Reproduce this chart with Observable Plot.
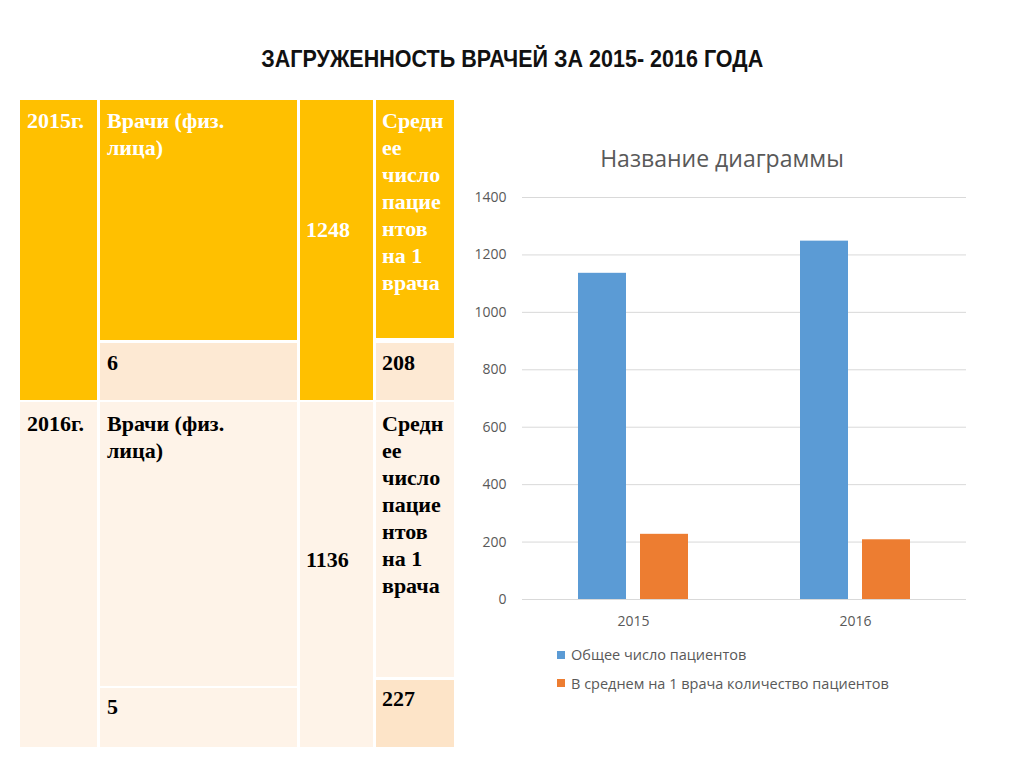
<!DOCTYPE html>
<html>
<head>
<meta charset="utf-8">
<script src="https://cdn.jsdelivr.net/npm/d3@7"></script>
<script src="https://cdn.jsdelivr.net/npm/@observablehq/plot@0.6"></script>
<style>
  html, body { margin: 0; padding: 0; background: #fff; }
  #page { position: relative; width: 1024px; height: 767px; overflow: hidden; background: #fff; }
  .abs { position: absolute; }
  .cell { position: absolute; }
  .ttxt { position: absolute; font-family: "Liberation Serif", "Times New Roman", serif; font-weight: bold; font-size: 22px; line-height: 27px; white-space: nowrap; }
  #title { position: absolute; top: 46px; left: 0; width: 1024px; text-align: center; font-family: "Liberation Sans Narrow", "Liberation Sans", sans-serif; font-weight: bold; font-size: 23px; color: #111; white-space: nowrap; }
  #title span { display: inline-block; transform-origin: center; }
  #ctitle { position: absolute; left: 460px; width: 524px; top: 142px; text-align: center; font-family: "Open Sans", sans-serif; font-size: 23px; color: #595959; white-space: nowrap; }
  .leg { position: absolute; font-family: "Open Sans", sans-serif; font-size: 14.5px; color: #595959; white-space: nowrap; }
  .sw { position: absolute; width: 8px; height: 8px; }
</style>
</head>
<body>
<div id="page">
  <div id="title"><span id="titlespan">ЗАГРУЖЕННОСТЬ ВРАЧЕЙ ЗА 2015- 2016 ГОДА</span></div>
  <div id="table"></div>
  <div id="ctitle">Название диаграммы</div>
  <div id="chart" class="abs" style="left:460px; top:180px;"></div>
  <div id="legend"></div>
</div>
<script>
// ---- Table data ----
const tableYears = ["2015г.", "2016г."];
const doctorsLabel = "Врачи (физ.<br>лица)";
const avgLabel = "Средн<br>ее<br>число<br>пацие<br>нтов<br>на 1<br>врача";
const doctorsCount = [6, 5];
const patientsTable = [1248, 1136];
const avgTable = [208, 227];

// ---- Chart data ----
const years = ["2015", "2016"];
const seriesNames = ["Общее число пациентов", "В среднем на 1 врача количество пациентов"];
const totalPatients = [1136, 1248];
const avgPerDoctor = [227, 208];
const seriesColors = ["#5B9BD5", "#ED7D31"];
const yTicks = [0, 200, 400, 600, 800, 1000, 1200, 1400];

// ---- Build table ----
const tbl = document.getElementById("table");
function cell(x, y, w, h, bg) {
  const d = document.createElement("div");
  d.className = "cell";
  Object.assign(d.style, {left: x + "px", top: y + "px", width: w + "px", height: h + "px", background: bg});
  tbl.appendChild(d);
}
function txt(x, y, html, color) {
  const d = document.createElement("div");
  d.className = "ttxt";
  Object.assign(d.style, {left: x + "px", top: y + "px", color});
  d.innerHTML = html;
  tbl.appendChild(d);
}
const YEL = "#FFC000", PEACH = "#FDE9D3", LIGHT = "#FEF3E8", PEACH2 = "#FDE4C8";
// 2015 block
cell(20, 100, 77, 300, YEL);
cell(100, 100, 197, 240, YEL);
cell(100, 343, 197, 57, PEACH);
cell(300, 100, 73, 300, YEL);
cell(376, 100, 78, 238, YEL);
cell(376, 343, 78, 57, PEACH);
// 2016 block
cell(20, 402, 77, 345, LIGHT);
cell(100, 402, 197, 284, LIGHT);
cell(100, 688, 197, 59, LIGHT);
cell(300, 402, 73, 345, LIGHT);
cell(376, 402, 78, 275, LIGHT);
cell(376, 680, 78, 67, PEACH2);

txt(27, 107, tableYears[0], "#fff");
txt(107, 107, doctorsLabel, "#fff");
txt(306, 216, String(patientsTable[0]), "#fff");
txt(382, 107, avgLabel, "#fff");
txt(107, 349, String(doctorsCount[0]), "#000");
txt(382, 349, String(avgTable[0]), "#000");

txt(27, 410, tableYears[1], "#000");
txt(107, 410, doctorsLabel, "#000");
txt(306, 546, String(patientsTable[1]), "#000");
txt(382, 410, avgLabel, "#000");
txt(107, 693, String(doctorsCount[1]), "#000");
txt(382, 685, String(avgTable[1]), "#000");

// ---- Chart ----
const data = years.flatMap((yr, i) => [
  {year: yr, series: seriesNames[0], value: totalPatients[i]},
  {year: yr, series: seriesNames[1], value: avgPerDoctor[i]}
]);

const chart = Plot.plot({
  width: 520,
  height: 460,
  marginTop: 17,
  marginBottom: 41,
  marginLeft: 62,
  marginRight: 14,
  style: {fontFamily: "Open Sans", fontSize: "14px", color: "#595959", background: "transparent"},
  fx: {domain: years, padding: 0, label: null, axis: null},
  x: {domain: seriesNames, paddingInner: 0.222, paddingOuter: 0.873, axis: null},
  y: {domain: [0, 1400], label: null},
  color: {domain: seriesNames, range: seriesColors},
  marks: [
    Plot.gridY(yTicks, {stroke: "#D9D9D9", strokeOpacity: 1}),
    Plot.barY(data, {fx: "year", x: "series", y: "value", fill: "series"}),
    Plot.axisY(yTicks, {tickSize: 0, tickPadding: 16, label: null, tickFormat: d => String(d)}),
    Plot.axisFx({anchor: "bottom", tickSize: 0, tickPadding: 17, label: null})
  ]
});
document.getElementById("chart").appendChild(chart);

// ---- Legend ----
const leg = document.getElementById("legend");
const legRows = [{sq: 651, ty: 645}, {sq: 679, ty: 674}];
seriesNames.forEach((name, i) => {
  const s = document.createElement("div");
  s.className = "sw";
  Object.assign(s.style, {left: "557px", top: legRows[i].sq + "px", background: seriesColors[i]});
  leg.appendChild(s);
  const t = document.createElement("div");
  t.className = "leg";
  Object.assign(t.style, {left: "571px", top: legRows[i].ty + "px"});
  t.textContent = name;
  leg.appendChild(t);
});

// fit title width to reference
const ts = document.getElementById("titlespan");
const w = ts.getBoundingClientRect().width;
ts.style.transform = `scaleX(${502 / w})`;
</script>
</body>
</html>
